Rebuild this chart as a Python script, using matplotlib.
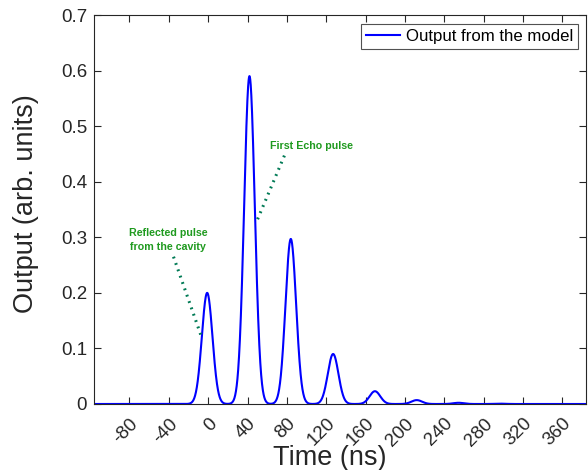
import numpy as np
import matplotlib
matplotlib.use("Agg")
import matplotlib.pyplot as plt

plt.rcParams['font.family'] = ['Liberation Sans', 'DejaVu Sans']

# Pulse parameters (time of peak in ns, peak height)
peak_times = [-1.0, 42.0, 84.0, 127.0, 169.5, 212.0, 254.5, 297.0]
peak_heights = [0.20, 0.59, 0.297, 0.090, 0.023, 0.007, 0.0022, 0.0006]
pulse_sigma = 5.4  # ns

x_ticks = [-80, -40, 0, 40, 80, 120, 160, 200, 240, 280, 320, 360]
y_ticks = [0, 0.1, 0.2, 0.3, 0.4, 0.5, 0.6, 0.7]
y_tick_labels = ['0', '0.1', '0.2', '0.3', '0.4', '0.5', '0.6', '0.7']
x_limits = [-116, 384]
y_limits = [0, 0.7]

t = np.linspace(x_limits[0], x_limits[1], 4001)
signal = np.zeros_like(t)
for tc, h in zip(peak_times, peak_heights):
    signal += h * np.exp(-(t - tc) ** 2 / (2 * pulse_sigma ** 2))

fig = plt.figure(figsize=(5.88, 4.70), dpi=100)
ax = fig.add_axes([94 / 588, 1 - 404 / 470, (586 - 94) / 588, (404 - 15) / 470])

ax.plot(t, signal, color='#0000ff', lw=1.5, label='Output from the model')

ax.set_xlim(x_limits)
ax.set_ylim(y_limits)
ax.set_xticks(x_ticks)
ax.set_xticklabels([str(v) for v in x_ticks], rotation=45, ha='right',
                   rotation_mode='anchor', fontsize=13.5, color='#262626')
ax.set_yticks(y_ticks)
ax.set_yticklabels(y_tick_labels, fontsize=13.5, color='#262626')
ax.tick_params(direction='in', length=5, width=0.8, top=True, right=True,
               color='#262626', pad=5)
ax.tick_params(axis='x', pad=8)
for s in ax.spines.values():
    s.set_color('#262626')
    s.set_linewidth(0.8)

ax.set_xlabel('Time (ns)', fontsize=19.5, color='#262626')
ax.xaxis.set_label_coords(0.479, -0.105)
ax.set_ylabel('Output (arb. units)', fontsize=19.5, color='#262626')
ax.yaxis.set_label_coords(-0.112, 0.514)

leg = ax.legend(loc='upper right', fontsize=12.1, frameon=True, fancybox=False,
                handlelength=2.0, borderpad=0.3, handletextpad=0.35,
                borderaxespad=0.0,
                bbox_to_anchor=(1 - 8 / 492, 1 - 9 / 389))
leg.get_frame().set_edgecolor('#262626')
leg.get_frame().set_linewidth(0.8)

text_color = '#1f9a1f'
dot_color = '#007a55'
ax.text(-40.6, 0.296, 'Reflected pulse\nfrom the cavity', fontsize=7.7,
        fontweight='bold', color=text_color, ha='center', va='center',
        linespacing=1.5)
ax.plot([-35.2, -7.4], [0.265, 0.124], color=dot_color, lw=2.2,
        linestyle=(0, (0.6, 1.6)))
ax.text(104.9, 0.465, 'First Echo pulse', fontsize=7.7, fontweight='bold',
        color=text_color, ha='center', va='center')
ax.plot([77.5, 48.7], [0.447, 0.326], color=dot_color, lw=2.2,
        linestyle=(0, (0.6, 1.6)))

fig.savefig('out.png', dpi=100)
